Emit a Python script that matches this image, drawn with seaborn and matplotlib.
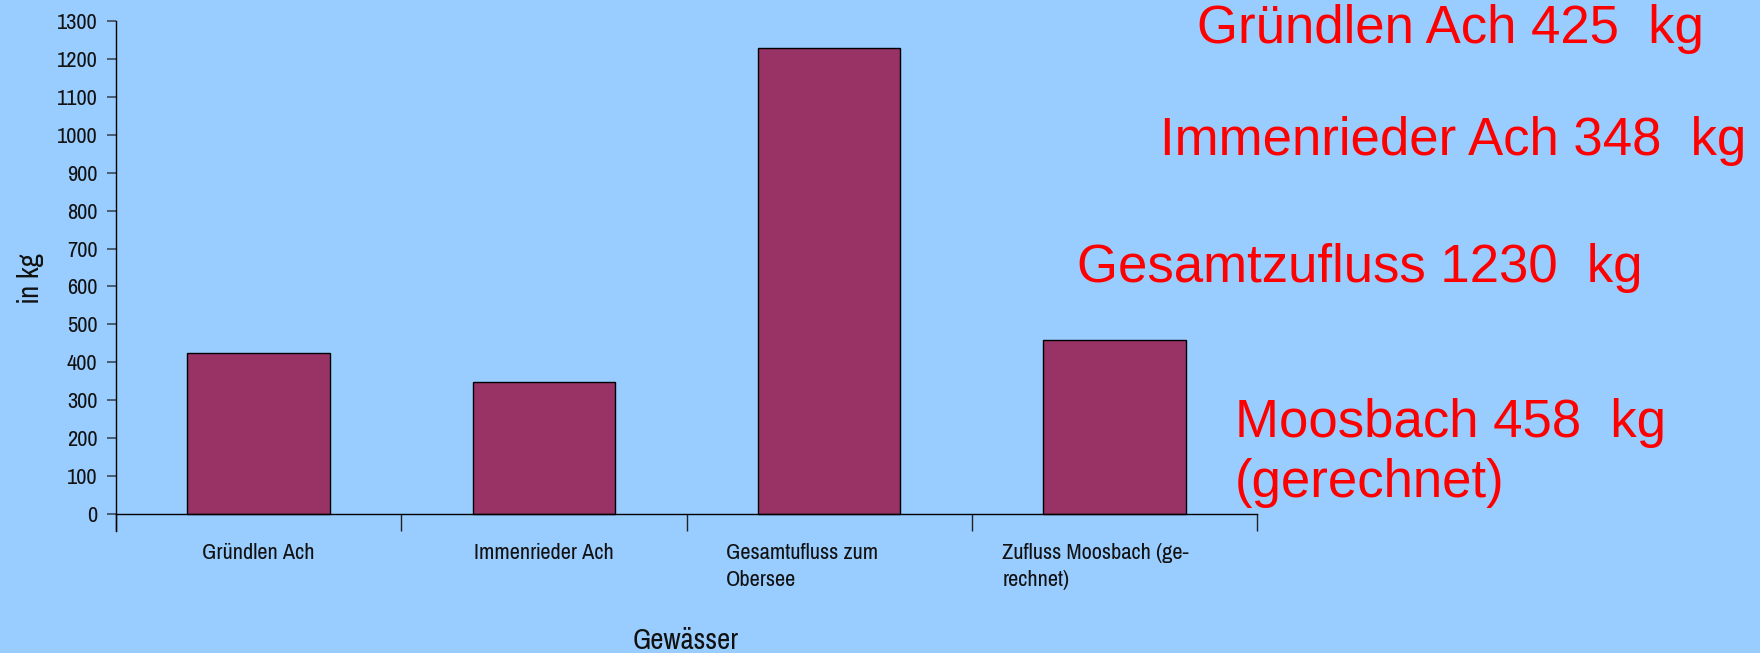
import matplotlib
matplotlib.use("Agg")
import matplotlib.pyplot as plt
import matplotlib.transforms as mtransforms
from matplotlib import font_manager
import seaborn as sns
import pandas as pd

# ---- data ----
categories = ["Gründlen Ach", "Immenrieder Ach", "Gesamtufluss zum\nObersee",
              "Zufluss Moosbach (ge-\nrechnet)"]
values = [425, 348, 1230, 458]
y_ticks = list(range(0, 1301, 100))
note_names = ["Gründlen Ach", "Immenrieder Ach", "Gesamtzufluss", "Moosbach"]
note_values = [425, 348, 1230, 458]
note_suffix = ["  kg", "  kg", "  kg", "  kg\n(gerechnet)"]
x_label = "Gewässer"
y_label = "in kg"

BG = "#99CCFF"
BAR = "#993366"
RED = "#FF0000"

sns.set_theme(style="white")
available = {f.name for f in font_manager.fontManager.ttflist}
narrow = "Liberation Sans"
for cand in ["Pragati Narrow", "Roboto Condensed", "Archivo Narrow"]:
    if cand in available:
        narrow = cand
        break
plt.rcParams['font.family'] = [narrow, 'DejaVu Sans']

W, H = 1760, 653
fig = plt.figure(figsize=(W / 100, H / 100), dpi=100, facecolor=BG)
ax_left, ax_right, ax_top, ax_bot = 116, 1257, 21, 531
ax = fig.add_axes([ax_left / W, (H - ax_bot) / H, (ax_right - ax_left) / W, (ax_bot - ax_top) / H])
ax.set_facecolor(BG)

df = pd.DataFrame({"cat": categories, "val": values})
sns.barplot(data=df, x="cat", y="val", color=BAR, saturation=1, edgecolor="black",
            linewidth=1.0, width=0.5, ax=ax)

ax.set_xlim(-0.5, len(categories) - 0.5)
ax.set_ylim(-45, 1300)
ax.set_yticks(y_ticks)
ax.set_yticklabels([str(v) for v in y_ticks], fontsize=17.5, color="#111111")
ax.tick_params(axis="y", direction="out", length=6.5, width=1.2, color="#3a4a5a", pad=7, left=True)

for s in ["top", "right"]:
    ax.spines[s].set_visible(False)
ax.spines["bottom"].set_position(("data", 0))
ax.spines["bottom"].set_color("black")
ax.spines["bottom"].set_linewidth(1.0)
ax.spines["left"].set_color("black")
ax.spines["left"].set_linewidth(1.0)

ax.set_xticks(range(len(categories)))
ax.set_xticklabels(categories, fontsize=17.5, color="#111111", linespacing=1.45)
ax.set_xticks([i - 0.5 for i in range(len(categories) + 1)], minor=True)
ax.tick_params(axis="x", which="major", length=0, pad=21, bottom=True)
ax.tick_params(axis="x", which="minor", direction="out", length=12.2, width=1.0, color="#222222", bottom=True)

# multi-line labels are left aligned, shifted left of the category centre
offsets = {2: -103, 3: -112}
for i, lbl in enumerate(ax.get_xticklabels()):
    if i in offsets:
        lbl.set_horizontalalignment("left")
        lbl.set_transform(lbl.get_transform() +
                          mtransforms.ScaledTranslation(offsets[i] / 100, 0, fig.dpi_scale_trans))

ax.set_xlabel(x_label, fontsize=22.5, color="#111111")
ax.xaxis.set_label_coords(0.4996, -0.188)
ax.set_ylabel(y_label, fontsize=22.5, color="#111111")
ax.yaxis.set_label_coords(-0.063, 0.496)

# red annotations
note_pos = [(1197, 43), (1160, 155), (1077, 282), (1235, 437)]
for (nx, ny), name, val, suf in zip(note_pos, note_names, note_values, note_suffix):
    txt = f"{name} {val}{suf}"
    lines = txt.split("\n")
    fig.text(nx / W, 1 - ny / H, lines[0], color=RED, fontsize=38,
             family=["Liberation Sans", "DejaVu Sans"], ha="left", va="baseline")
    for k, extra in enumerate(lines[1:], start=1):
        fig.text(nx / W, 1 - (ny + 60 * k) / H, extra, color=RED, fontsize=38,
                 family=["Liberation Sans", "DejaVu Sans"], ha="left", va="baseline")

fig.savefig("out.png", dpi=100, facecolor=BG)
